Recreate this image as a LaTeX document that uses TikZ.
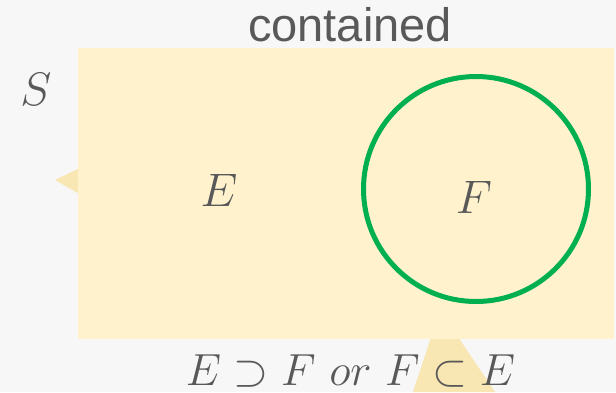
\RequirePackage{fix-cm}
\documentclass[tikz,border=0pt]{standalone}
\usepackage{fontspec}
\newfontfamily\labelfont{Liberation Sans}
\definecolor{bgc}{HTML}{F7F7F7}
\definecolor{boxc}{HTML}{FFF2CC}
\definecolor{tric}{HTML}{F9E7B3}
\definecolor{txtc}{HTML}{595959}
\definecolor{greenc}{HTML}{00B050}
\begin{document}
\begin{tikzpicture}[x=1pt,y=-1pt,
  lbl/.style={anchor=base,text=txtc,inner sep=0pt,font=\fontsize{47}{56}\selectfont},
  ttl/.style={anchor=base,text=txtc,inner sep=0pt,font=\labelfont\fontsize{47}{56}\selectfont},
  setc/.style={draw=greenc,line width=5pt}]
\fill[bgc] (0,0) rectangle (616,392);
\useasboundingbox (0,0) rectangle (616,392);
\fill[tric] (55,180) -- (90,163) -- (90,200) -- cycle;
\fill[tric] (440,310) -- (495,392) -- (413,392) -- cycle;
\fill[boxc] (78,48) rectangle (614,339);
\node[ttl] (title) at (350,41.5) {contained};
\node[lbl] (s) at (36,105) {$S$};
\node[lbl] (e) at (219,206) {$E$};
\node[setc,circle,minimum size=225pt,inner sep=0pt] (f) at (476,189) {};
\node[lbl] (flabel) at (474,213) {$F$};
\node[lbl,font=\fontsize{45}{54}\selectfont] (rel) at (350.5,385) {$E\supset F\ or\ F\subset E$};
\end{tikzpicture}
\end{document}
